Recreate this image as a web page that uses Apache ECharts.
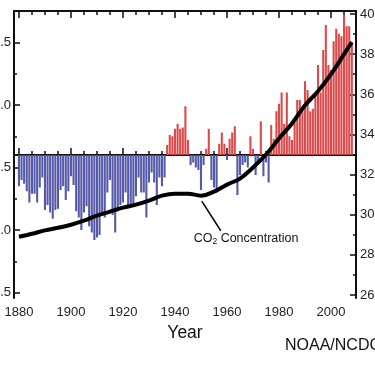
<!DOCTYPE html>
<html><head><meta charset="utf-8">
<script src="https://cdn.jsdelivr.net/npm/echarts@6/dist/echarts.min.js"></script>
<style>html,body{margin:0;padding:0;background:#fff}#c{width:375px;height:366px}</style>
</head><body><div id="c"></div>
<script>
// ---- data ----
const firstYear = 1880;
// annual temperature anomaly (°F) relative to the chart's baseline, 1880–2008
const tempAnomalyF = [
 -0.25,-0.20,-0.23,-0.29,-0.38,-0.31,-0.31,-0.38,-0.26,-0.18,
 -0.44,-0.40,-0.46,-0.51,-0.44,-0.43,-0.28,-0.25,-0.36,-0.29,
 -0.17,-0.24,-0.45,-0.50,-0.60,-0.46,-0.41,-0.57,-0.62,-0.68,
 -0.66,-0.64,-0.48,-0.50,-0.30,-0.20,-0.48,-0.62,-0.45,-0.40,
 -0.38,-0.30,-0.42,-0.40,-0.40,-0.33,-0.18,-0.30,-0.30,-0.50,
 -0.22,-0.14,-0.22,-0.40,-0.18,-0.25,-0.18, 0.08, 0.16, 0.15,
  0.21, 0.25, 0.21, 0.22, 0.39, 0.12,-0.08,-0.06,-0.10,-0.12,
 -0.28,-0.08, 0.05, 0.21,-0.20,-0.26,-0.30, 0.09, 0.18, 0.09,
 -0.04, 0.13, 0.18, 0.23,-0.32,-0.16,-0.08,-0.06,-0.10, 0.15,
  0.05,-0.16,-0.05, 0.27,-0.17,-0.06,-0.22, 0.24, 0.13, 0.35,
  0.41, 0.50, 0.25, 0.50, 0.15, 0.12, 0.26, 0.44, 0.44, 0.38,
  0.59, 0.52, 0.35, 0.37, 0.48, 0.72, 0.50, 0.84, 1.04, 0.72,
  0.68, 0.91, 1.01, 0.97, 0.95, 1.12, 1.03, 1.03, 0.90
];
const years = tempAnomalyF.map((_, i) => firstYear + i);
const tempBaselineF = 57.6;
const tempTickLabels = ['58.5', '58.0', '57.5', '57.0', '56.5'];
const tempMinorTicks = ['58.25', '57.75', '57.25', '56.75'];
const co2Years = [1880,1885,1890,1895,1900,1905,1910,1915,1920,1925,1930,1935,1940,1945,1950,1955,1960,1965,1970,1975,1980,1985,1990,1995,2000,2005,2008];
const co2Ppm   = [289.0,290.5,292.2,293.5,295,297,299.5,301.5,303.5,305,307,309.5,310.5,310.5,309.5,311.5,315,318,323.5,330,338,345.5,354.5,361.5,370,380,386];
const co2TickLabels = [260, 280, 300, 320, 340, 360, 380, 400];
const co2MinorTicks = [270, 290, 310, 330, 350, 370, 390];
const yearTickLabels = [1880, 1900, 1920, 1940, 1960, 1980, 2000];
const yearMinorTicks = [1885,1890,1895,1905,1910,1915,1925,1930,1935,1945,1950,1955,1965,1970,1975,1985,1990,1995,2005];
const annotationText = 'CO₂ Concentration';

// ---- chart ----
const FONT = "'Liberation Sans', Arial, sans-serif";
const chart = echarts.init(document.getElementById('c'), null, {renderer: 'canvas'});
const tempMajor = tempTickLabels.map(s => +(parseFloat(s) - tempBaselineF).toFixed(3));
const tempMinor = tempMinorTicks.map(s => +(parseFloat(s) - tempBaselineF).toFixed(3));
const xMin = 1878.1, xMax = 2009.6;
const axisLineStyle = {color: '#111', width: 2};
const baseX = {
  type: 'value', min: xMin, max: xMax, splitLine: {show: false}
};
const baseY = {splitLine: {show: false}};

chart.setOption({
  animation: false,
  backgroundColor: '#fff',
  grid: {left: 14, right: 19, top: 11, bottom: 68, containLabel: false, outerBoundsMode: 'none'},
  xAxis: [
    Object.assign({}, baseX, {
      position: 'bottom',
      axisLine: {show: true, lineStyle: axisLineStyle},
      axisTick: {show: true, inside: true, length: 7, lineStyle: {color: '#111', width: 1.5}, customValues: yearTickLabels},
      axisLabel: {show: true, customValues: yearTickLabels, margin: 8, fontSize: 13, color: '#222', fontFamily: FONT, formatter: v => String(v)},
      name: 'Year', nameLocation: 'middle', nameGap: 26,
      nameTextStyle: {fontSize: 17.5, color: '#111', fontFamily: FONT}
    }),
    Object.assign({}, baseX, {
      position: 'bottom',
      axisLine: {show: false},
      axisTick: {show: true, inside: true, length: 4, lineStyle: {color: '#111', width: 1.5}, customValues: yearMinorTicks},
      axisLabel: {show: false}
    }),
    Object.assign({}, baseX, {
      position: 'top',
      axisLine: {show: true, lineStyle: axisLineStyle},
      axisTick: {show: true, inside: true, length: 7, lineStyle: {color: '#111', width: 1.5}, customValues: yearTickLabels},
      axisLabel: {show: false}
    }),
    Object.assign({}, baseX, {
      position: 'top',
      axisLine: {show: false},
      axisTick: {show: true, inside: true, length: 4, lineStyle: {color: '#111', width: 1.5}, customValues: yearMinorTicks},
      axisLabel: {show: false}
    })
  ],
  yAxis: [
    Object.assign({}, baseY, {
      type: 'value', position: 'left', min: -1.144, max: 1.152,
      axisLine: {show: true, lineStyle: axisLineStyle},
      axisTick: {show: true, inside: true, length: 6, lineStyle: {color: '#111', width: 1.5}, customValues: tempMajor},
      axisLabel: {show: true, customValues: tempMajor, margin: 3, fontSize: 13, color: '#222', fontFamily: FONT,
        formatter: v => (tempBaselineF + v).toFixed(1)}
    }),
    Object.assign({}, baseY, {
      type: 'value', position: 'right', min: 258.5, max: 401.5,
      axisLine: {show: true, lineStyle: axisLineStyle},
      axisTick: {show: true, inside: true, length: 6, lineStyle: {color: '#111', width: 1.5}, customValues: co2TickLabels},
      axisLabel: {show: true, customValues: co2TickLabels, margin: 4, fontSize: 13, color: '#222', fontFamily: FONT,
        formatter: v => String(v)}
    }),
    Object.assign({}, baseY, {
      type: 'value', position: 'left', min: -1.144, max: 1.152,
      axisLine: {show: false},
      axisTick: {show: true, inside: true, length: 3, lineStyle: {color: '#111', width: 1.5}, customValues: tempMinor},
      axisLabel: {show: false}
    }),
    Object.assign({}, baseY, {
      type: 'value', position: 'right', min: 258.5, max: 401.5,
      axisLine: {show: false},
      axisTick: {show: true, inside: true, length: 3, lineStyle: {color: '#111', width: 1.5}, customValues: co2MinorTicks},
      axisLabel: {show: false}
    })
  ],
  series: [
    {
      type: 'bar', xAxisIndex: 0, yAxisIndex: 0,
      barWidth: 2.1,
      data: years.map((y, i) => [y, tempAnomalyF[i]]),
      itemStyle: {color: p => p.value[1] >= 0 ? '#dc4a4c' : '#5559a8'},
      silent: true, z: 2
    },
    {
      type: 'line', xAxisIndex: 0, yAxisIndex: 1,
      data: co2Years.map((y, i) => [y, co2Ppm[i]]),
      smooth: 0.4, showSymbol: false,
      lineStyle: {color: '#000', width: 4},
      silent: true, z: 5,
      markLine: {
        silent: true, symbol: ['none', 'arrow'], symbolSize: [0, 9],
        lineStyle: {color: '#000', width: 1.5, type: 'solid'},
        label: {show: false},
        data: [[{coord: [1957.6, 292.0]}, {coord: [1950.3, 306.8]}]]
      },
      markPoint: {
        silent: true, symbol: 'circle', symbolSize: 1,
        itemStyle: {color: 'rgba(0,0,0,0)'},
        label: {
          show: true, position: 'right', distance: 0,
          formatter: '{a|CO}{s|2}{a| Concentration}',
          rich: {
            a: {fontSize: 12.5, color: '#111', fontFamily: FONT, lineHeight: 14, verticalAlign: 'middle'},
            s: {fontSize: 8.5, color: '#111', fontFamily: FONT, lineHeight: 14, verticalAlign: 'bottom'}
          }
        },
        data: [{coord: [1947.0, 288.0], value: annotationText}]
      }
    }
  ],
  graphic: [
    {type: 'text', left: 285, top: 338, silent: true,
     style: {text: 'NOAA/NCDC', fontSize: 16, fill: '#111', fontFamily: FONT}}
  ]
});
</script>
</body></html>
